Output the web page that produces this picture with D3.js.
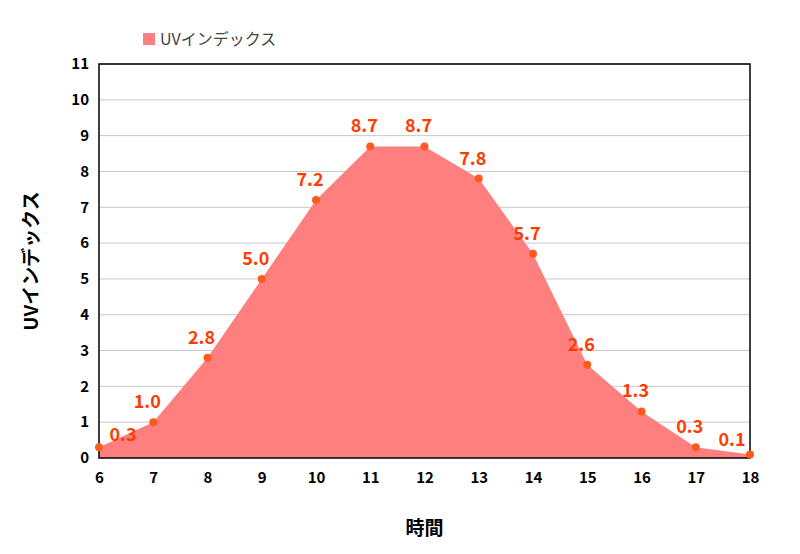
<!DOCTYPE html>
<html><head><meta charset="utf-8">
<script src="https://cdn.jsdelivr.net/npm/d3@7"></script>
<style>body{margin:0;background:#fff}</style>
</head><body>
<svg id="chart" width="800" height="554"></svg>
<script>
const hours = [6,7,8,9,10,11,12,13,14,15,16,17,18];
const uvValues = [0.3,1.0,2.8,5.0,7.2,8.7,8.7,7.8,5.7,2.6,1.3,0.3,0.1];
const yTicks = [0,1,2,3,4,5,6,7,8,9,10,11];
const seriesName = "UVインデックス";

const svg = d3.select("#chart");
const font = "'Noto Sans CJK JP', 'Noto Sans', sans-serif";
const margin = {left: 99, right: 50, top: 64, bottom: 96};
const width = 800 - margin.left - margin.right;
const height = 554 - margin.top - margin.bottom;

const g = svg.append("g").attr("transform", `translate(${margin.left},${margin.top})`);

const x = d3.scaleLinear().domain([6, 18]).range([0, width]);
const y = d3.scaleLinear().domain([0, 11]).range([height, 0]);

// Gridlines
g.selectAll(".grid").data(yTicks.slice(1)).enter().append("line")
    .attr("x1", 0).attr("x2", width)
    .attr("y1", d => y(d)).attr("y2", d => y(d))
    .attr("stroke", "#c8c8c8").attr("stroke-width", 1);

// Area
const area = d3.area().x((d, i) => x(hours[i])).y0(y(0)).y1(d => y(d));
g.append("path").datum(uvValues).attr("fill", "#ff7f7f").attr("d", area);

// Frame
g.append("rect").attr("width", width).attr("height", height)
    .attr("fill", "none").attr("stroke", "#000").attr("stroke-width", 1.5);

// Axes
const xAxis = g.append("g").attr("transform", `translate(0,${height})`)
    .call(d3.axisBottom(x).tickValues(hours).tickSize(0).tickPadding(14));
const yAxis = g.append("g")
    .call(d3.axisLeft(y).tickValues(yTicks).tickSize(0).tickPadding(10));
[xAxis, yAxis].forEach(a => {
    a.select(".domain").remove();
    a.selectAll("text").attr("font-family", font).attr("font-size", 15)
        .attr("font-weight", "bold").attr("fill", "#000");
});

// Points
g.selectAll(".pt").data(uvValues).enter().append("circle")
    .attr("cx", (d, i) => x(hours[i])).attr("cy", d => y(d))
    .attr("r", 4).attr("fill", "#ff5a1e");

// Value labels
g.selectAll(".lbl").data(uvValues).enter().append("text")
    .attr("x", (d, i) => x(hours[i]) - 6).attr("y", d => y(d) - 14)
    .attr("text-anchor", "middle")
    .attr("font-family", font).attr("font-size", 18).attr("font-weight", "bold")
    .attr("fill", "#ff3c00")
    .text(d => d.toFixed(1))
    .each(function(d, i) {
        if (i === 0) d3.select(this).attr("x", x(hours[i]) + 24).attr("y", y(d) - 6);
        if (i === hours.length - 1) d3.select(this).attr("x", x(hours[i]) - 18).attr("y", y(d) - 8);
        if (i === 1) d3.select(this).attr("y", y(d) - 14);
    });

// Axis titles
svg.append("text").attr("x", margin.left + width / 2).attr("y", 535)
    .attr("text-anchor", "middle").attr("font-family", font)
    .attr("font-size", 19).attr("font-weight", "bold").text("時間");
svg.append("text")
    .attr("transform", `translate(38,${margin.top + height / 2}) rotate(-90)`)
    .attr("text-anchor", "middle").attr("font-family", font)
    .attr("font-size", 19).attr("font-weight", "bold").text(seriesName);

// Legend
svg.append("rect").attr("x", 143).attr("y", 33).attr("width", 12).attr("height", 12).attr("fill", "#ff7f7f");
svg.append("text").attr("x", 160).attr("y", 45).attr("font-family", font)
    .attr("font-size", 16).attr("fill", "#444").text(seriesName);
</script>
</body></html>
